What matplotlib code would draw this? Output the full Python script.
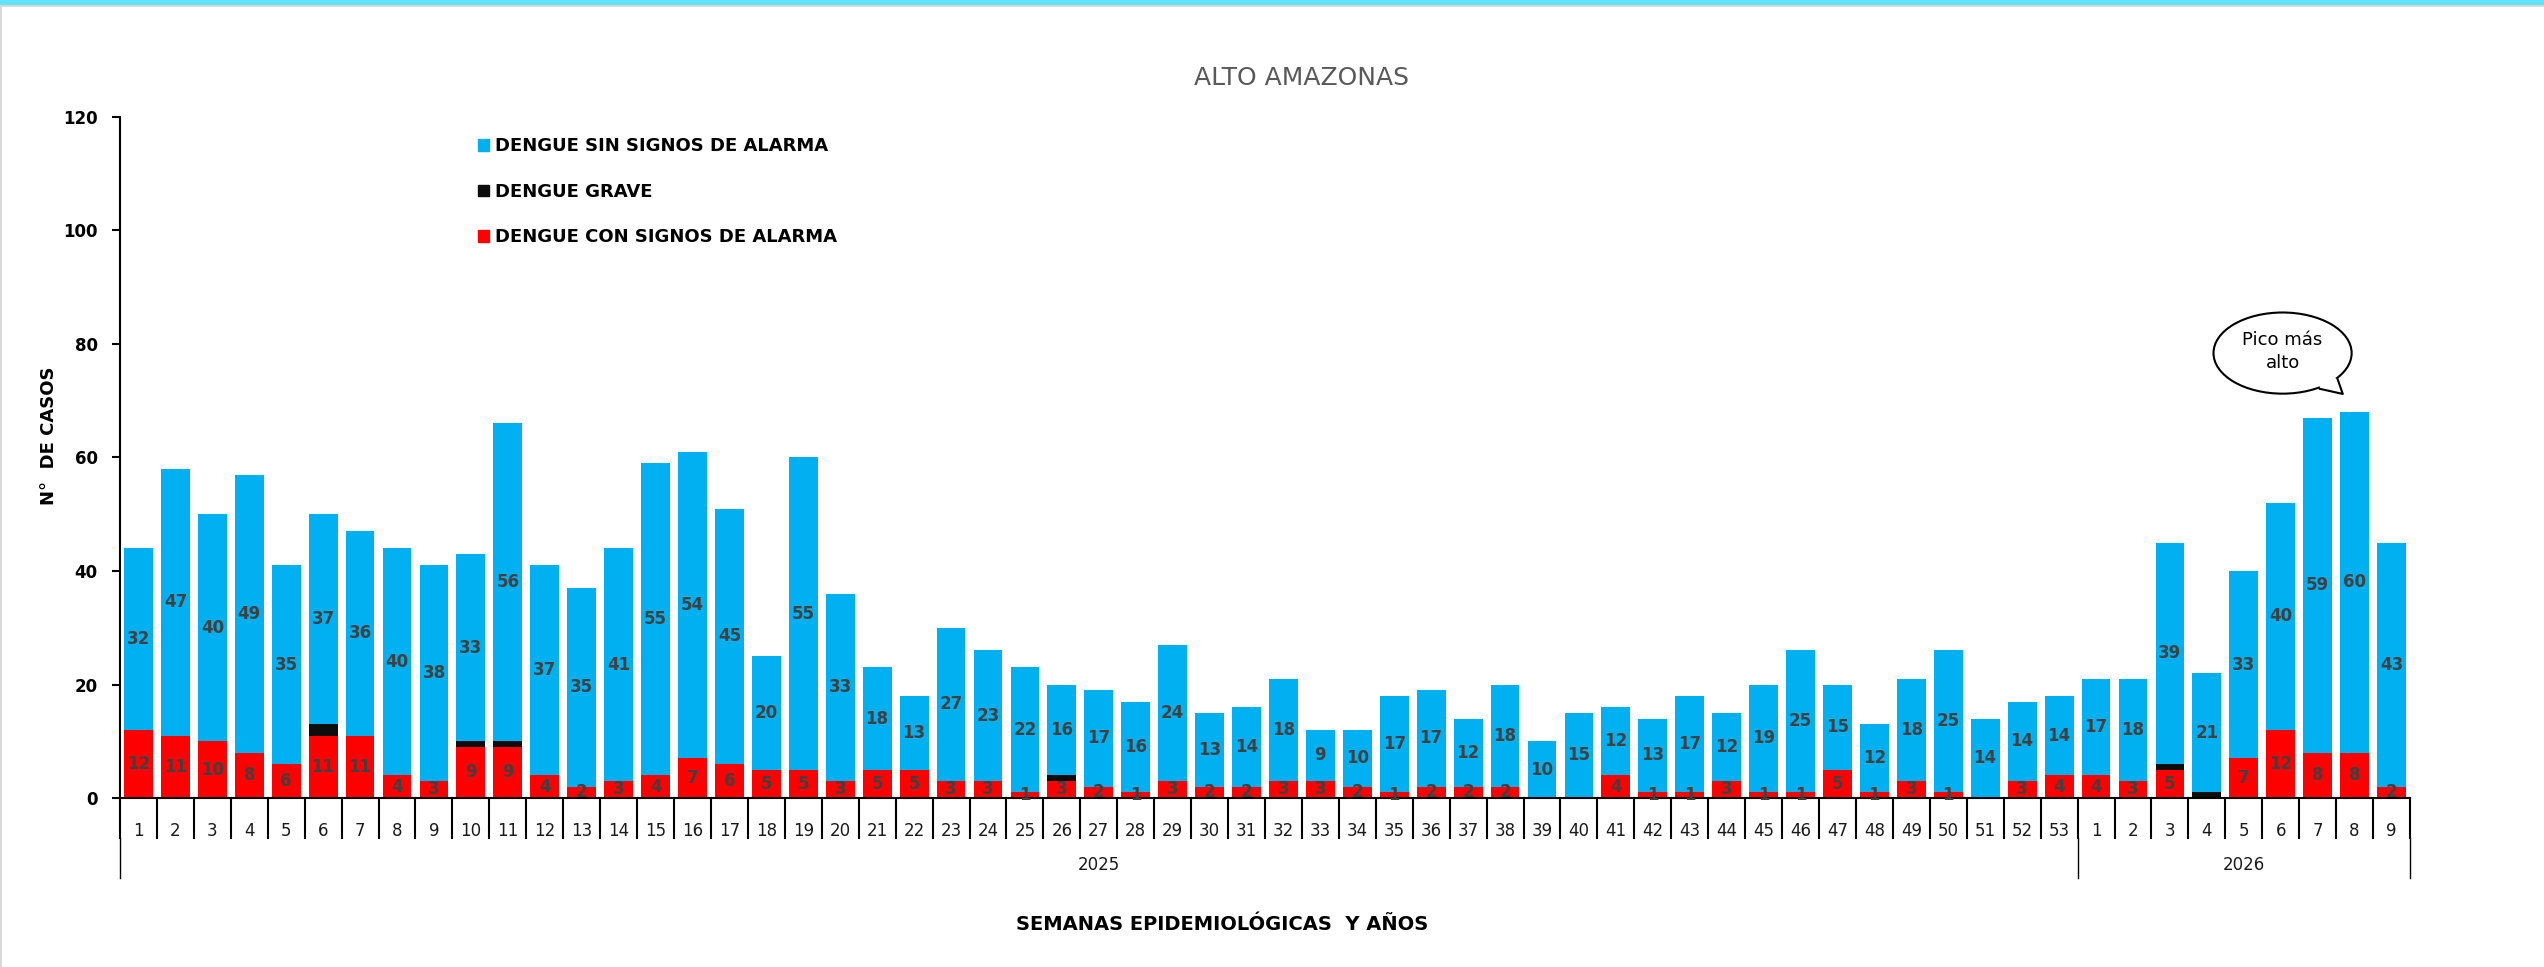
import matplotlib
matplotlib.use("Agg")
import matplotlib.pyplot as plt
import numpy as np
from matplotlib.patches import Ellipse, Patch, Polygon, Rectangle
from matplotlib.transforms import blended_transform_factory

# semanas epidemiologicas
WEEKS_2025 = list(range(1, 54))
WEEKS_2026 = list(range(1, 10))
YEARS = ["2025", "2026"]

CON_SIGNOS = [
    12, 11, 10, 8, 6, 11, 11, 4, 3, 9, 9, 4, 2, 3, 4, 7, 6, 5, 5, 3, 5, 5, 3, 3, 1, 3, 2,
    1, 3, 2, 2, 3, 3, 2, 1, 2, 2, 2, 0, 0, 4, 1, 1, 3, 1, 1, 5, 1, 3, 1, 0, 3, 4,
    4, 3, 5, 0, 7, 12, 8, 8, 2,
]
GRAVE = [
    0, 0, 0, 0, 0, 2, 0, 0, 0, 1, 1, 0, 0, 0, 0, 0, 0, 0, 0, 0, 0, 0, 0, 0, 0, 1, 0,
    0, 0, 0, 0, 0, 0, 0, 0, 0, 0, 0, 0, 0, 0, 0, 0, 0, 0, 0, 0, 0, 0, 0, 0, 0, 0,
    0, 0, 1, 1, 0, 0, 0, 0, 0,
]
SIN_SIGNOS = [
    32, 47, 40, 49, 35, 37, 36, 40, 38, 33, 56, 37, 35, 41, 55, 54, 45, 20, 55, 33, 18, 13, 27, 23, 22, 16, 17,
    16, 24, 13, 14, 18, 9, 10, 17, 17, 12, 18, 10, 15, 12, 13, 17, 12, 19, 25, 15, 12, 18, 25, 14, 14, 14,
    17, 18, 39, 21, 33, 40, 59, 60, 43,
]

BLUE = "#00B0F0"
RED = "#FF0000"
BLACK = "#0D0D0D"
LABEL_GRAY = "#404040"

W, H = 2544, 967
fig = plt.figure(figsize=(W / 100, H / 100), dpi=100)
ax = fig.add_axes([120 / W, 1 - 798 / H, (2410 - 120) / W, (798 - 117) / H])

con = np.array(CON_SIGNOS)
grave = np.array(GRAVE)
sin = np.array(SIN_SIGNOS)
weeks = WEEKS_2025 + WEEKS_2026
x = np.arange(len(weeks))
width = 0.78

ax.bar(x, con, width, color=RED, zorder=2)
ax.bar(x, grave, width, bottom=con, color=BLACK, zorder=2)
ax.bar(x, sin, width, bottom=con + grave, color=BLUE, zorder=2)

for i in x:
    if con[i] > 0:
        ax.text(i, con[i] / 2, str(con[i]), ha="center", va="center", fontsize=12,
                fontweight="bold", color=LABEL_GRAY, zorder=4, clip_on=False)
    if sin[i] > 0:
        ax.text(i, con[i] + grave[i] + sin[i] / 2, str(sin[i]), ha="center", va="center",
                fontsize=12, fontweight="bold", color=LABEL_GRAY, zorder=4)

ax.set_xlim(-0.5, len(weeks) - 0.5)
ax.set_ylim(0, 120)
ax.set_yticks(np.arange(0, 121, 20))
ax.tick_params(axis="y", direction="out", length=6, width=1.5, labelsize=12, pad=10)
for lab in ax.get_yticklabels():
    lab.set_fontweight("bold")
ax.set_xticks(x)
ax.set_xticklabels([str(w) for w in weeks], fontsize=12, color="#1a1a1a")
ax.tick_params(axis="x", length=0, pad=17)
for side in ["top", "right"]:
    ax.spines[side].set_visible(False)
for side in ["left", "bottom"]:
    ax.spines[side].set_linewidth(1.5)
    ax.spines[side].set_color("black")

# multi-level category axis
trans = blended_transform_factory(ax.transData, ax.transAxes)
ax_h = 798 - 117
short = -40 / ax_h
long_ = -80 / ax_h
for b in np.arange(len(weeks) + 1) - 0.5:
    ax.plot([b, b], [0, short], transform=trans, color="black", lw=1.5, clip_on=False)
split = len(WEEKS_2025) - 0.5
for b in [-0.5, split, len(weeks) - 0.5]:
    ax.plot([b, b], [short, long_], transform=trans, color="black", lw=1.0, clip_on=False)
centers = [(len(WEEKS_2025) - 1) / 2, len(WEEKS_2025) + (len(WEEKS_2026) - 1) / 2]
for c, yr in zip(centers, YEARS):
    ax.text(c, -67 / ax_h, yr, transform=trans, ha="center", va="center", fontsize=12,
            color="#1a1a1a")

# speech bubble over the peak
totals = con + grave + sin
peak = int(np.argmax(totals))
top = totals[peak]
cx, cy = peak - 1.95, top + 10.4
ax.add_patch(Ellipse((cx, cy), 3.74, 14.3, facecolor="white", edgecolor="black",
                     lw=1.5, zorder=5, clip_on=False))
b1 = (peak - 0.94, top + 4.1)
tip = (peak - 0.32, top + 3.2)
b2 = (peak - 0.46, top + 5.8)
ax.add_patch(Polygon([b1, tip, b2, (peak - 1.0, top + 7.5)], closed=True,
                     facecolor="white", edgecolor="none", zorder=6, clip_on=False))
ax.plot([b1[0], tip[0], b2[0]], [b1[1], tip[1], b2[1]], color="black", lw=1.5,
        zorder=7, clip_on=False)
ax.text(cx, cy + 0.3, "Pico más\nalto", ha="center", va="center", fontsize=13,
        linespacing=1.35, color="black", zorder=8)

handles = [Patch(color=BLUE), Patch(color=BLACK), Patch(color=RED)]
labels = ["DENGUE SIN SIGNOS DE ALARMA", "DENGUE GRAVE", "DENGUE CON SIGNOS DE ALARMA"]
fig.legend(handles, labels, loc="upper left", bbox_to_anchor=(462 / W, 1 - 121 / H),
           frameon=False, handlelength=0.6, handleheight=0.6, handletextpad=0.35,
           labelspacing=1.53, prop={"weight": "bold", "size": 13})

fig.text(1302 / W, 1 - 78 / H, "ALTO AMAZONAS", ha="center", va="center", fontsize=18,
         color="#595959")
fig.text(1222 / W, 1 - 925 / H, "SEMANAS EPIDEMIOLÓGICAS  Y AÑOS", ha="center",
         va="center", fontsize=14, fontweight="bold")
fig.text(49 / W, 1 - 436 / H, "N°  DE CASOS", ha="center", va="center", rotation=90,
         fontsize=13, fontweight="bold")

# borde de la diapositiva
fig.add_artist(Rectangle((0, 1 - 5 / H), 1, 5 / H, transform=fig.transFigure,
                         color="#64E2FA", lw=0))
fig.add_artist(Rectangle((0, 1 - 7 / H), 1, 2 / H, transform=fig.transFigure,
                         color="#D9D9D9", lw=0))
fig.add_artist(Rectangle((0, 0), 2 / W, 1 - 7 / H, transform=fig.transFigure,
                         color="#D9D9D9", lw=0))

fig.savefig("out.png", dpi=100)
